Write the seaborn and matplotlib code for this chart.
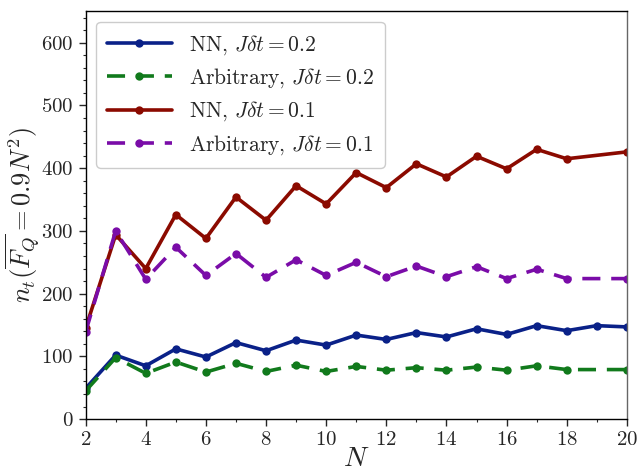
import numpy as np
import pandas as pd
import matplotlib
matplotlib.use("Agg")
import matplotlib.pyplot as plt
import seaborn as sns
from matplotlib.ticker import MultipleLocator

# ===== DATA =====
N_full = [2, 3, 4, 5, 6, 7, 8, 9, 10, 11, 12, 13, 14, 15, 16, 17, 18, 19, 20]
N_skip = [2, 3, 4, 5, 6, 7, 8, 9, 10, 11, 12, 13, 14, 15, 16, 17, 18, 20]

nn_02 = [49, 102, 85, 112, 99, 122, 109, 126, 118, 134, 127, 138, 131, 144, 135, 149, 141, 149, 147]
arb_02 = [45, 98, 73, 91, 75, 89, 76, 86, 76, 84, 78, 82, 78, 83, 78, 85, 79, 79]
nn_01 = [145, 294, 240, 326, 288, 354, 317, 372, 343, 393, 369, 407, 386, 419, 399, 430, 415, 426]
arb_01 = [139, 300, 223, 274, 229, 264, 226, 254, 229, 250, 227, 244, 227, 243, 224, 239, 224, 224]

labels = [r"NN, $J\delta t = 0.2$", r"Arbitrary, $J\delta t = 0.2$",
          r"NN, $J\delta t = 0.1$", r"Arbitrary, $J\delta t = 0.1$"]
colors = ["#0a2188", "#117a1c", "#8b0a00", "#7a0ca8"]
dashed = [False, True, False, True]

series = [(N_full, nn_02), (N_skip, arb_02), (N_skip, nn_01), (N_skip, arb_01)]
frames = []
for lab, (xs, ys) in zip(labels, series):
    frames.append(pd.DataFrame({"N": xs, "n": ys, "series": lab}))
df = pd.concat(frames, ignore_index=True)

# ===== STYLE =====
sns.set_style("white")
plt.rcParams["font.family"] = "serif"
plt.rcParams["font.serif"] = ["cmr10", "DejaVu Serif"]
plt.rcParams["mathtext.fontset"] = "cm"
plt.rcParams["axes.formatter.use_mathtext"] = True

fig = plt.figure(figsize=(6.39, 4.72), dpi=100)
ax = fig.add_axes([0.134, 0.112, 0.847, 0.864])

# ===== PLOT =====
for lab, col, ds in zip(labels, colors, dashed):
    sub = df[df["series"] == lab]
    sns.lineplot(data=sub, x="N", y="n", ax=ax, color=col, label=lab,
                 marker="o", markersize=6, markeredgewidth=0, linewidth=2.6,
                 linestyle="--" if ds else "-")
    if ds:
        ax.lines[-1].set_dashes([5, 3])

ax.set_xlim(2, 20)
ax.set_ylim(0, 650)
ax.xaxis.set_major_locator(MultipleLocator(2))
ax.xaxis.set_minor_locator(MultipleLocator(1))
ax.yaxis.set_major_locator(MultipleLocator(100))
ax.yaxis.set_minor_locator(MultipleLocator(20))
ax.tick_params(which="both", direction="out", bottom=True, left=True, labelsize=15)
ax.tick_params(which="major", length=5, width=1)
ax.tick_params(which="minor", length=2.5, width=0.8)
for s in ax.spines.values():
    s.set_color("black")
    s.set_linewidth(1)
ax.spines["right"].set_color("#666666")

ax.set_xlabel(r"$N$", fontsize=20)
ax.set_ylabel(r"$n_t(\overline{F_Q} = 0.9N^2)$", fontsize=19)
ax.xaxis.set_label_coords(0.5, -0.065)
ax.yaxis.set_label_coords(-0.08, 0.5)

ax.legend(loc="upper left", fontsize=15.5, handlelength=3, framealpha=1,
          borderpad=0.5, labelspacing=0.45)

fig.savefig("out.png", dpi=100)
